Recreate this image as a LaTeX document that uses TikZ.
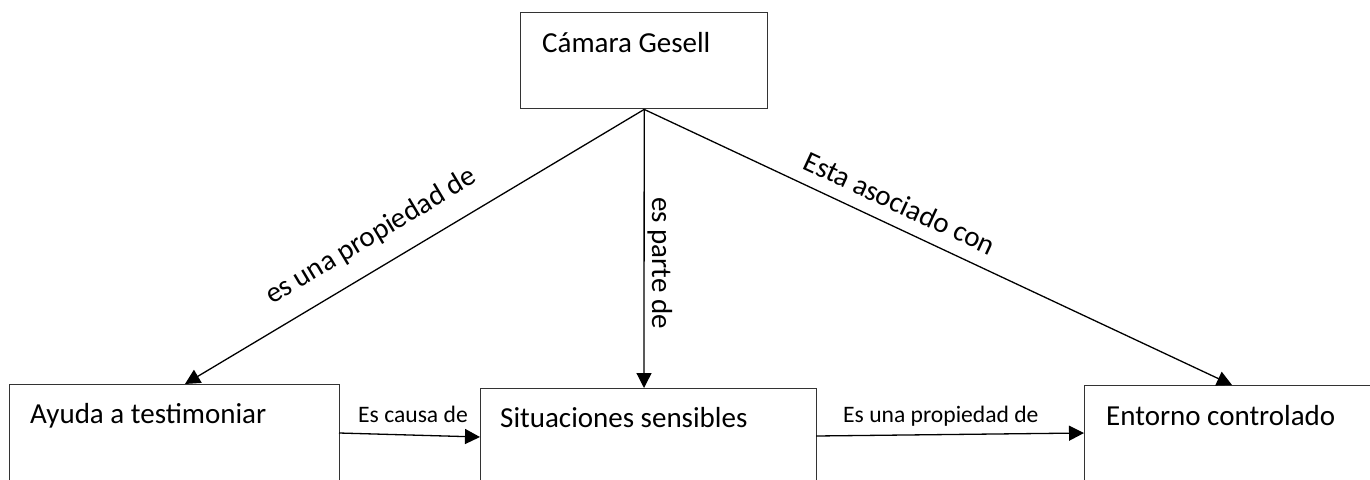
\documentclass[tikz,border=0pt]{standalone}
\usepackage{fontspec}
\setmainfont{Carlito}
\usetikzlibrary{arrows.meta}
\begin{document}
\begin{tikzpicture}[x=1pt,y=-1pt,
  box/.style={draw=black!80, line width=1.4pt, inner sep=0, anchor=north west},
  conn/.style={draw=black, line width=1.3pt, -{Triangle[length=15pt,width=15pt]}},
  bigtxt/.style={font=\fontsize{29}{34}\selectfont, inner sep=0, anchor=base west},
  smalltxt/.style={font=\fontsize{23.6}{28}\selectfont, inner sep=0, anchor=base west},
]
\useasboundingbox (0,0) rectangle (1370,479);
\clip (0,0) rectangle (1370,479);
% boxes
\node[box, minimum width=247pt, minimum height=96pt] (top) at (520,12) {};
\node[box, minimum width=330pt, minimum height=130pt] (left) at (9,384) {};
\node[box, minimum width=336pt, minimum height=130pt] (mid) at (480,388) {};
\node[box, minimum width=320pt, minimum height=130pt] (right) at (1084,385) {};
% box texts
\node[bigtxt] (ttop) at (542,52) {Cámara Gesell};
\node[bigtxt] (tleft) at (30,423) {Ayuda a testimoniar};
\node[bigtxt] (tmid) at (500,427) {Situaciones sensibles};
\node[bigtxt] (tright) at (1106,425) {Entorno controlado};
% connector end points
\coordinate (pl) at (185,384);
\coordinate (pm) at (644,388);
\coordinate (pr) at (1232,385);
\coordinate (a1) at (339,433);
\coordinate (b1) at (480,437);
\coordinate (a2) at (816,436);
\coordinate (b2) at (1084,433);
% connectors
\draw[conn] (top.south) -- (pl);
\draw[conn] (top.south) -- (pm);
\draw[conn] (top.south) -- (pr);
\draw[conn] (a1) -- (b1);
\draw[conn] (a2) -- (b2);
% labels
\node[bigtxt, rotate=30.9] (l1) at (272,305) {es una propiedad de};
\node[bigtxt, rotate=-90] (l2) at (652,197) {es parte de};
\node[bigtxt, rotate=-24.95] (l3) at (801,168) {Esta asociado con};
\node[smalltxt] (l4) at (358,422) {Es causa de};
\node[smalltxt] (l5) at (843,422) {Es una propiedad de};
\end{tikzpicture}
\end{document}
